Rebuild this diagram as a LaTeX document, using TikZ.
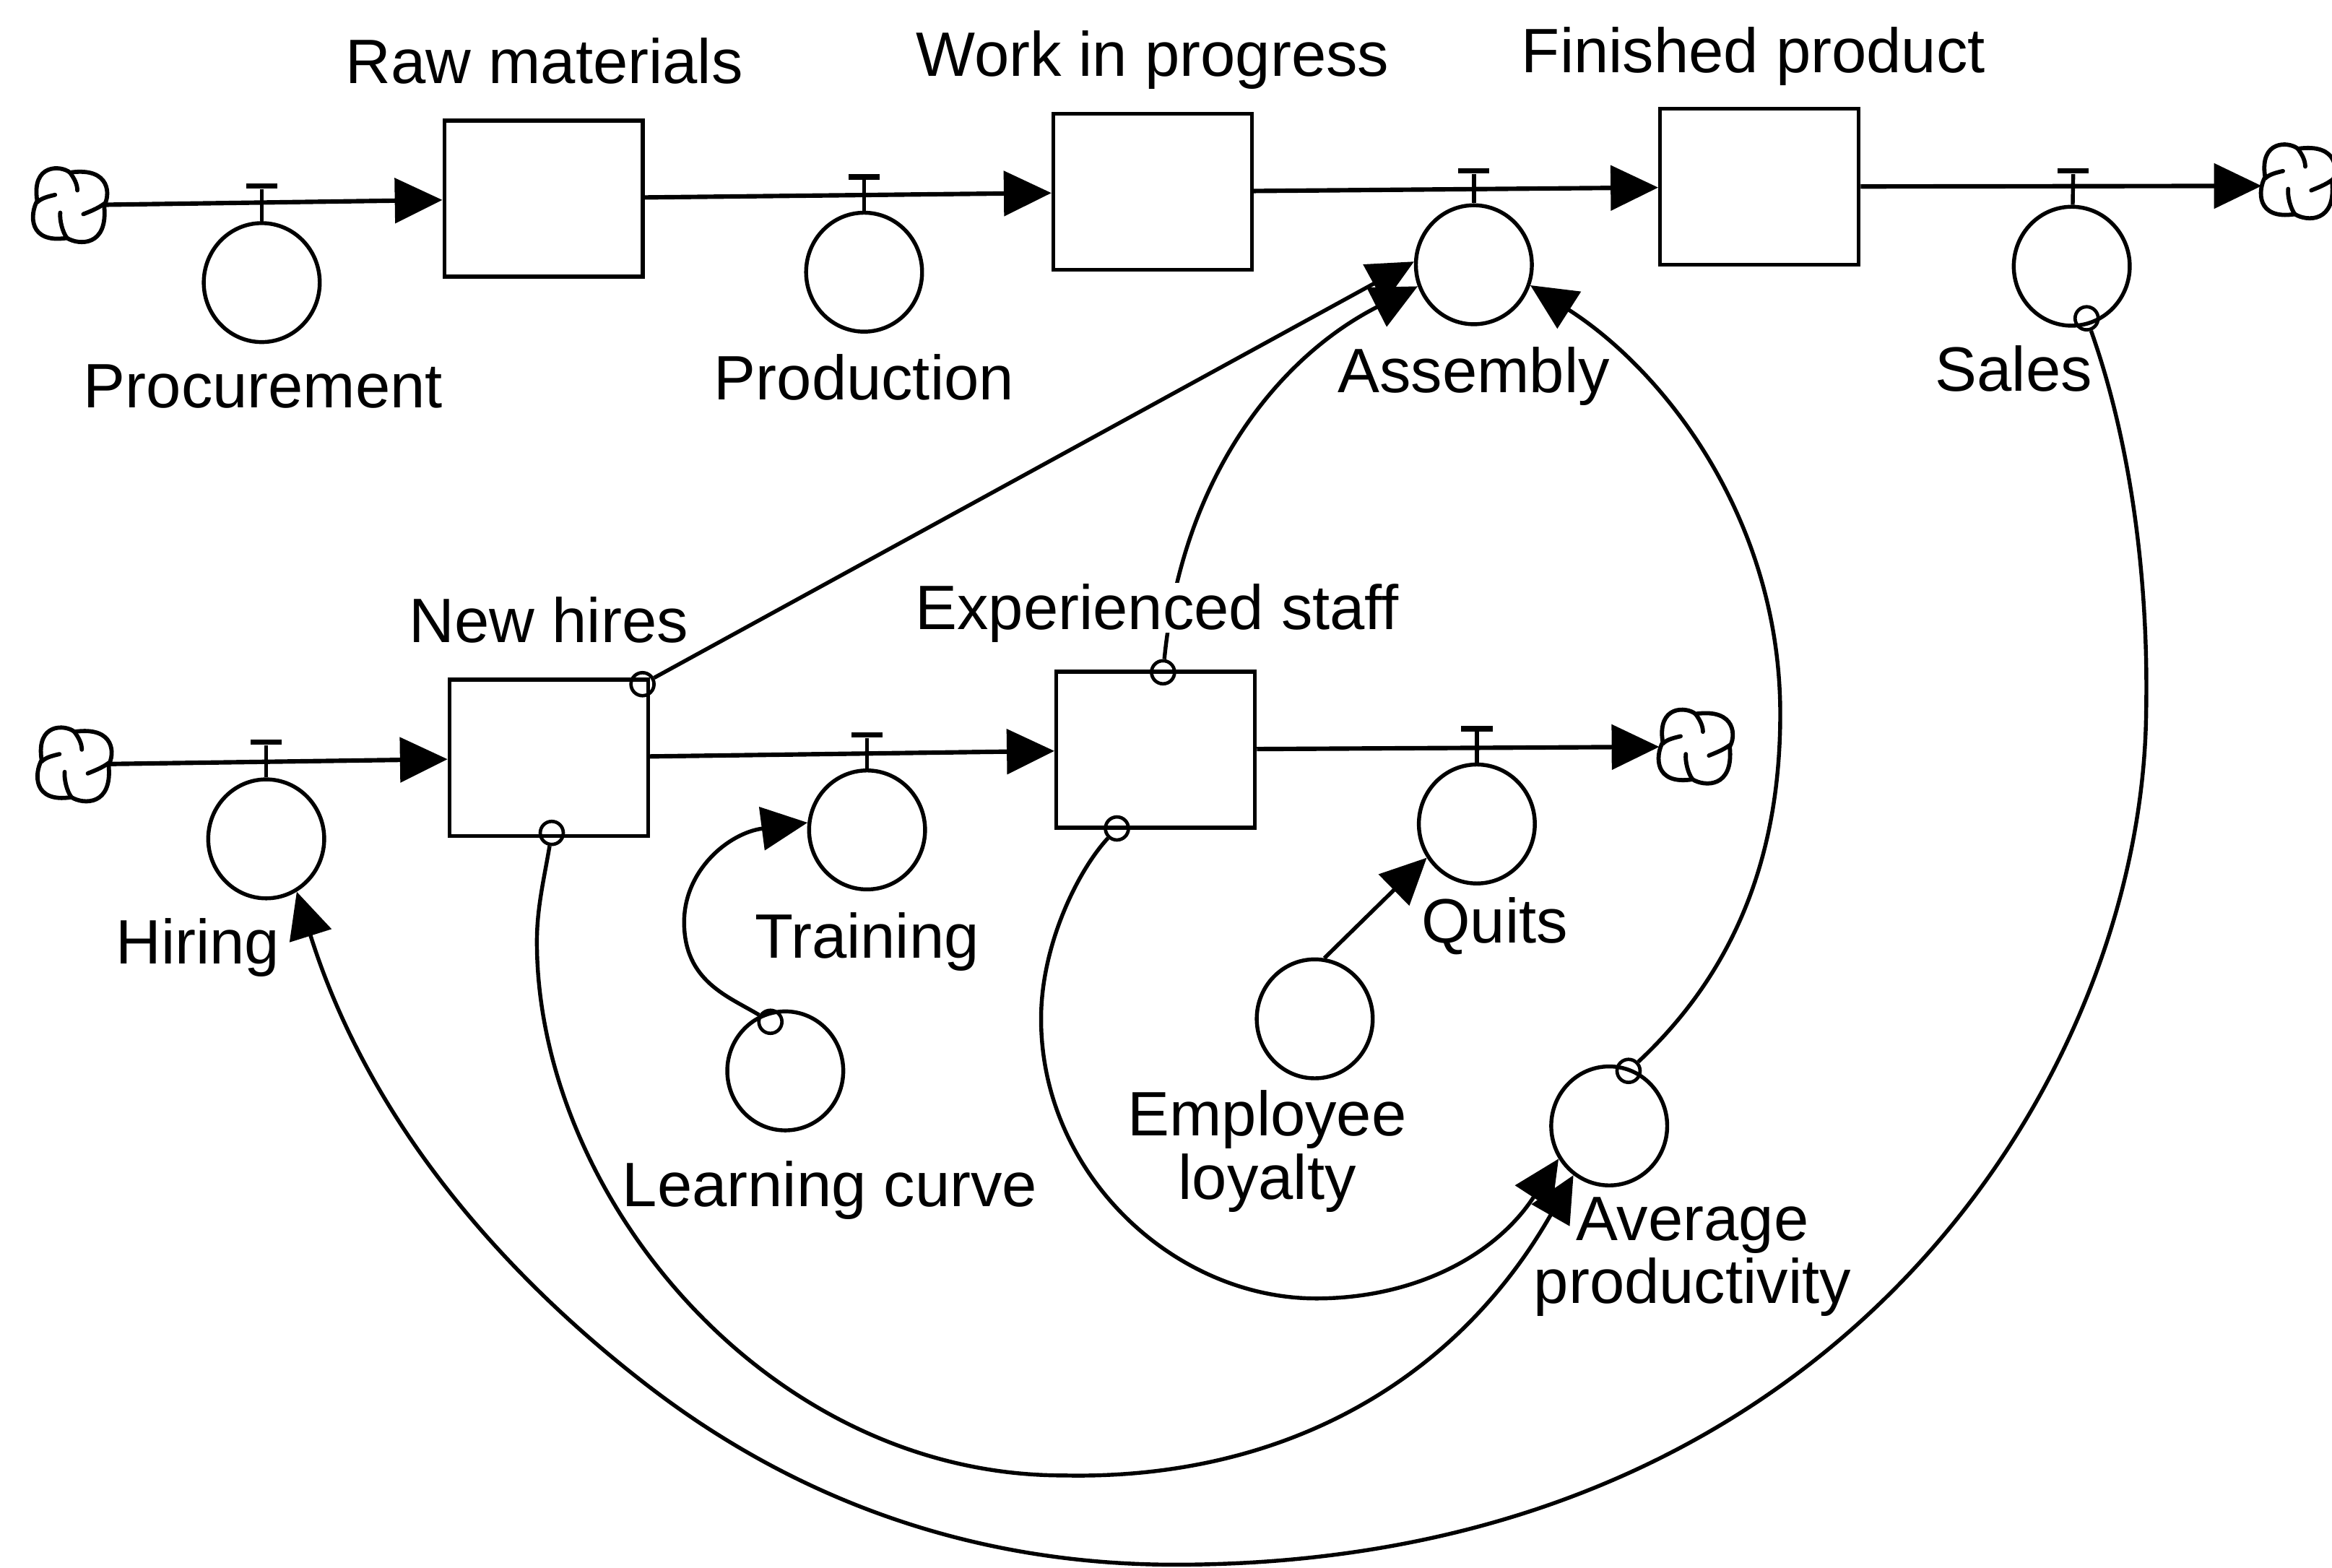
\documentclass[tikz,border=0pt]{standalone}
\usepackage{fontspec}
\setmainfont{Liberation Sans}
\usetikzlibrary{arrows.meta,shapes.geometric}
\tikzset{
  ln/.style={line width=1.5pt,draw=black},
  flow/.style={line width=1.7pt,draw=black,-{Triangle[length=0.64cm,width=0.6cm]}},
  link/.style={ln,-{Triangle[length=0.62cm,width=0.58cm]}},
  stock/.style={ln,rectangle,minimum width=2.67cm,minimum height=2.1cm,inner sep=0pt},
  conv/.style={ln,ellipse,minimum width=1.56cm,minimum height=1.6cm,inner sep=0pt},
  tap/.style={rectangle,fill=black,minimum width=0.42cm,minimum height=0.07cm,inner sep=0pt},
  dot/.style={circle,line width=1.3pt,draw=black,minimum size=0.31cm,inner sep=0pt},
  cloudbox/.style={rectangle,minimum size=0.96cm,inner sep=0pt},
  lab/.style={anchor=base,inner sep=0pt,font=\fontsize{24}{24}\selectfont},
  lab2/.style={anchor=center,inner sep=0pt,align=center,font=\fontsize{24}{24.3}\selectfont},
  cloudmark/.pic={
    \draw[line width=1.6pt] (0,-22) .. controls (-6,-27) and (-26,-28) .. (-22,-3)
      .. controls (-27,6) and (-28,26) .. (-2,22)
      .. controls (6,27) and (26,28) .. (23,0)
      .. controls (27,-6) and (28,-26) .. (0,-22);
    \draw[line width=1.6pt,line cap=round] (0,-22) .. controls (3,-18) and (5,-14) .. (5,-10);
    \draw[line width=1.6pt,line cap=round] (-22,-2) .. controls (-19,-5) and (-14,-6) .. (-10,-7);
    \draw[line width=1.6pt,line cap=round] (23,-1) .. controls (19,2) and (14,4) .. (9,6);
    \draw[line width=1.6pt,line cap=round] (-2,22) .. controls (-5,18) and (-7,10) .. (-6.5,5);
  }
}
\begin{document}
\begin{tikzpicture}[x=0.02cm,y=-0.02cm]
\useasboundingbox (0,0) rectangle (1568,1054);
% stocks
\node[stock] (rm) at (365.5,133.5) {};
\node[stock] (wip) at (775,129) {};
\node[stock] (fp) at (1183,125.5) {};
\node[stock] (nh) at (369,509.5) {};
\node[stock] (es) at (777,504) {};
% converters
\node[conv] (proc) at (176,190) {};
\node[conv] (prod) at (581,183) {};
\node[conv] (asm) at (991,178) {};
\node[conv] (sales) at (1393,179) {};
\node[conv] (hire) at (179,564) {};
\node[conv] (train) at (583,558) {};
\node[conv] (quits) at (993,554) {};
\node[conv] (lc) at (528,720) {};
\node[conv] (el) at (884,685) {};
\node[conv] (ap) at (1082,757) {};
% clouds
\node[cloudbox] (c1) at (47,138) {};
\node[cloudbox] (c2) at (1545,122) {};
\node[cloudbox] (c3) at (50,514) {};
\node[cloudbox] (c4) at (1140,502) {};
\pic at (c1) {cloudmark};
\pic at (c2) {cloudmark};
\pic at (c3) {cloudmark};
\pic at (c4) {cloudmark};
% flows
\draw[flow] (c1) -- (rm);
\draw[flow] (rm) -- (wip);
\draw[flow] (wip) -- (fp);
\draw[flow] (fp) -- (c2.187);
\draw[flow] (c3) -- (nh);
\draw[flow] (nh) -- (es);
\draw[flow] (es) -- (c4);
% taps
\node[tap] (t1) at (176,125) {};
\node[tap] (t2) at (581,119) {};
\node[tap] (t3) at (991,115) {};
\node[tap] (t4) at (1394,115) {};
\node[tap] (t5) at (179,499) {};
\node[tap] (t6) at (583,494) {};
\node[tap] (t7) at (993,490) {};
\draw[ln] (proc) -- (t1);
\draw[ln] (prod) -- (t2);
\draw[ln] (asm) -- (t3);
\draw[ln] (sales) -- (t4);
\draw[ln] (hire) -- (t5);
\draw[ln] (train) -- (t6);
\draw[ln] (quits) -- (t7);
% link origins
\node[dot] (o1) at (432,460) {};
\node[dot] (o2) at (371,560) {};
\node[dot] (o3) at (782,452) {};
\node[dot] (o4) at (751,557) {};
\node[dot] (o5) at (518,687) {};
\node[dot] (o6) at (1095,720) {};
\node[dot] (o7) at (1403,214) {};
% links
\draw[link] (o1) -- (asm.177);
\draw[link] (o3) .. controls (795,320) and (860,240) .. (asm.201);
\draw[link] (o6) .. controls (1170,650) and (1197,570) .. (1197,480) .. controls (1197,350) and (1120,250) .. (asm.340);
\draw[link] (o7) .. controls (1430,290) and (1445,380) .. (1443,480) .. controls (1440,720) and (1240,1052) .. (790,1052) .. controls (660,1052) and (540,1012) .. (436,932) .. controls (345,862) and (250,760) .. (hire.300);
\draw[link] (o2) .. controls (366,590) and (361,610) .. (361,633) .. controls (361,803) and (515,992) .. (715,992) .. controls (855,995) and (975,935) .. (ap.234);
\draw[link] (o4) .. controls (725,585) and (700,635) .. (700,685) .. controls (700,790) and (790,873) .. (885,873) .. controls (950,873) and (1005,845) .. (ap.213);
\draw[link] (o5) .. controls (490,670) and (460,660) .. (460,620) .. controls (460,585) and (490,560) .. (train.173);
\draw[link] (el.81) -- (quits.214);
% labels
\node[lab] (l1) at (366,56) {Raw materials};
\node[lab] (l2) at (775,51) {Work in progress};
\node[lab] (l3) at (1179,49) {Finished product};
\node[lab] (l4) at (177,274) {Procurement};
\node[lab] (l5) at (581,269) {Production};
\node[lab] (l6) at (991,264) {Assembly};
\node[lab] (l7) at (1354,263) {Sales};
\node[lab] (l8) at (369,432) {New hires};
\node[lab,fill=white,text height=0.62cm,text depth=0.05cm] (l9) at (778,423) {Experienced staff};
\node[lab] (l10) at (133,648) {Hiring};
\node[lab] (l11) at (583,644) {Training};
\node[lab] (l12) at (1005,634) {Quits};
\node[lab] (l13) at (558,811) {Learning curve};
\node[lab2] (l14) at (852,774) {Employee\\loyalty};
\node[lab2] (l15) at (1138,845) {Average\\productivity};
\end{tikzpicture}
\end{document}
